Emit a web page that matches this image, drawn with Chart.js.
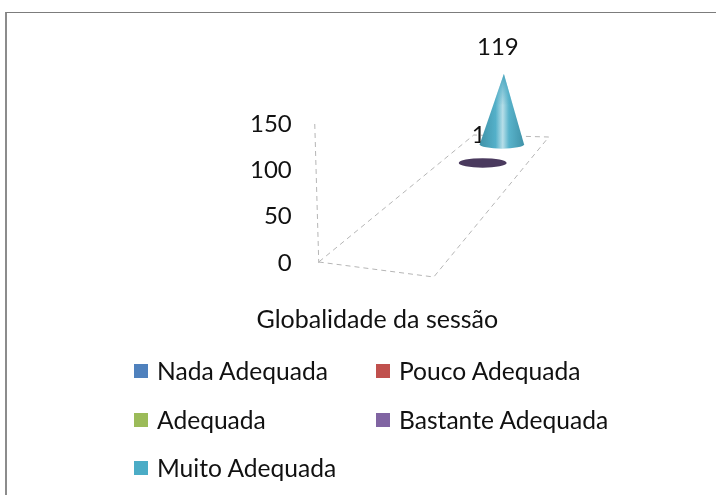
<!DOCTYPE html>
<html>
<head>
<meta charset="utf-8">
<script src="https://cdn.jsdelivr.net/npm/chart.js@4"></script>
<style>
  html, body { margin: 0; padding: 0; background: #fff; }
  #frame { position: absolute; left: 5px; top: 12px; width: 711px; height: 483px;
           border-left: 2px solid #8c8c8c; border-top: 1px solid #7c7c7c; }
  #wrap { position: absolute; left: 0; top: 0; width: 716px; height: 495px; }
  #legend { position: absolute; left: 134px; top: 347px; width: 500px; font: 24.6px Lato, sans-serif; color: #111; }
  #legend .item { position: absolute; white-space: nowrap; line-height: 48px; height: 48px; }
  #legend .box { position: absolute; left: 0; top: 17px; width: 14px; height: 14px; }
  #legend .name { position: absolute; left: 23px; top: 0; }
</style>
</head>
<body>
<div id="frame"></div>
<div id="wrap"><canvas id="chart" width="716" height="495"></canvas></div>
<div id="legend"></div>
<script>
const categories = ['Globalidade da sessão'];
const seriesNames = ['Nada Adequada', 'Pouco Adequada', 'Adequada', 'Bastante Adequada', 'Muito Adequada'];
const seriesValues = [0, 0, 0, 1, 119];
const seriesColors = ['#4F81BD', '#C0504D', '#9BBB59', '#8064A2', '#4BACC6'];
const yTicks = [0, 50, 100, 150];

const FONT = 'Lato, sans-serif';

// homography: u across the category, v from the front to the back of the floor
function makeProjection(area) {
  const x0 = area.left + 2, y0 = area.bottom - 1;
  const x1 = area.left + 117, y1 = area.bottom + 14;
  const x2 = area.left + 232, y2 = area.bottom - 126;
  const x3 = area.left + 157, y3 = area.bottom - 128;
  const dx1 = x1 - x2, dx2 = x3 - x2, sx = x0 - x1 + x2 - x3;
  const dy1 = y1 - y2, dy2 = y3 - y2, sy = y0 - y1 + y2 - y3;
  const det = dx1 * dy2 - dx2 * dy1;
  const g = (sx * dy2 - dx2 * sy) / det;
  const h = (dx1 * sy - sx * dy1) / det;
  const a = x1 - x0 + g * x1, b = x3 - x0 + h * x3;
  const d = y1 - y0 + g * y1, e = y3 - y0 + h * y3;
  return (u, v) => {
    const w = g * u + h * v + 1;
    return { x: (a * u + b * v + x0) / w, y: (d * u + e * v + y0) / w };
  };
}

function dist(p, q) { return Math.hypot(p.x - q.x, p.y - q.y); }

function dashedLine(ctx, pts) {
  ctx.save();
  ctx.strokeStyle = '#b5b5b5';
  ctx.lineWidth = 1;
  ctx.setLineDash([5, 4]);
  ctx.beginPath();
  pts.forEach((p, i) => i ? ctx.lineTo(p.x, p.y) : ctx.moveTo(p.x, p.y));
  ctx.stroke();
  ctx.restore();
}

function shade(hex, k) {
  const n = parseInt(hex.slice(1), 16);
  const c = [n >> 16, (n >> 8) & 255, n & 255].map(v => Math.round(k >= 0 ? v + (255 - v) * k : v * (1 + k)));
  return `rgb(${c[0]},${c[1]},${c[2]})`;
}

function drawCone(ctx, base, rx, height, color) {
  const ry = rx * 0.2;
  ctx.save();
  ctx.filter = 'blur(0.6px)';
  if (height < 4) {
    // almost no height: only the flat disc shows
    ctx.fillStyle = shade(color, -0.42);
    ctx.beginPath();
    ctx.ellipse(base.x, base.y, rx, ry, 0, 0, Math.PI * 2);
    ctx.fill();
  } else {
    const outline = () => {
      ctx.beginPath();
      ctx.moveTo(base.x + 2, base.y - height);
      ctx.lineTo(base.x - rx, base.y);
      ctx.ellipse(base.x, base.y, rx, ry, 0, Math.PI, 0, true);
      ctx.closePath();
    };
    const grad = ctx.createLinearGradient(base.x - rx, 0, base.x + rx, 0);
    grad.addColorStop(0, shade(color, -0.15));
    grad.addColorStop(0.36, shade(color, 0.05));
    grad.addColorStop(0.52, shade(color, 0.6));
    grad.addColorStop(0.66, shade(color, 0.08));
    grad.addColorStop(1, shade(color, -0.15));
    ctx.fillStyle = grad;
    outline();
    ctx.fill();
    // the highlight fades out toward the tip
    const tip = ctx.createLinearGradient(0, base.y - height, 0, base.y - height * 0.55);
    tip.addColorStop(0, shade(color, -0.05));
    tip.addColorStop(1, 'rgba(75,172,198,0)');
    ctx.fillStyle = tip;
    outline();
    ctx.fill();
  }
  ctx.restore();
}

const floorPlugin = {
  id: 'floor3d',
  afterDatasetsDraw(chart) {
    const { ctx, chartArea, scales } = chart;
    const project = makeProjection(chartArea);
    const yScale = scales.y;
    const frontLeft = project(0, 0), frontRight = project(1, 0);
    const frontWidth = dist(frontLeft, frontRight);
    const zero = yScale.getPixelForValue(0);
    const depths = seriesValues.length;

    // tilted value axis and floor outline
    dashedLine(ctx, [{ x: frontLeft.x - 4, y: yScale.getPixelForValue(yTicks[yTicks.length - 1]) }, { x: frontLeft.x, y: zero }]);
    dashedLine(ctx, [project(0, 0), project(1, 0), project(1, 1), project(0, 1), project(0, 0)]);

    // the label of a front cone stays under the next cone, as in the reference
    seriesValues.forEach((value, i) => {
      if (!value) return;
      const v = (i + 0.5) / depths;
      const base = project(0.5, v);
      const width = dist(project(0, v), project(1, v));
      const rx = width * 0.285;
      const height = (zero - yScale.getPixelForValue(value)) * (width / frontWidth) * 0.95;
      ctx.save();
      ctx.fillStyle = '#111';
      ctx.font = '24px ' + FONT;
      ctx.textAlign = 'center';
      ctx.textBaseline = 'middle';
      ctx.fillText(String(value), base.x - 4, base.y - height - 27);
      ctx.restore();
      drawCone(ctx, base, rx, height, seriesColors[i]);
    });
  }
};

const chart = new Chart(document.getElementById('chart'), {
  type: 'bar',
  data: {
    labels: categories,
    datasets: seriesNames.map((name, i) => ({
      label: name,
      data: [seriesValues[i]],
      backgroundColor: 'rgba(0,0,0,0)',
      borderWidth: 0
    }))
  },
  options: {
    responsive: false,
    animation: false,
    layout: { padding: { left: 225, right: 278, top: 124, bottom: 118 } },
    plugins: { legend: { display: false }, tooltip: { enabled: false } },
    scales: {
      x: {
        grid: { display: false, drawTicks: false },
        border: { display: false },
        ticks: { color: '#111', padding: 42, font: { size: 25, family: FONT } }
      },
      y: {
        min: 0,
        max: 150,
        afterBuildTicks(scale) { scale.ticks = yTicks.map(v => ({ value: v })); },
        grid: { display: false, drawTicks: false },
        border: { display: false },
        ticks: { color: '#111', padding: 25, font: { size: 24, family: FONT } }
      }
    }
  },
  plugins: [floorPlugin]
});

// legend in two columns, built from the chart's own datasets
const legendEl = document.getElementById('legend');
chart.data.datasets.forEach((ds, i) => {
  const item = document.createElement('div');
  item.className = 'item';
  item.style.left = (i % 2 ? 242 : 0) + 'px';
  item.style.top = Math.floor(i / 2) * 48.5 + 'px';
  item.innerHTML = `<span class="box" style="background:${seriesColors[i]}"></span><span class="name">${ds.label}</span>`;
  legendEl.appendChild(item);
});
</script>
</body>
</html>
